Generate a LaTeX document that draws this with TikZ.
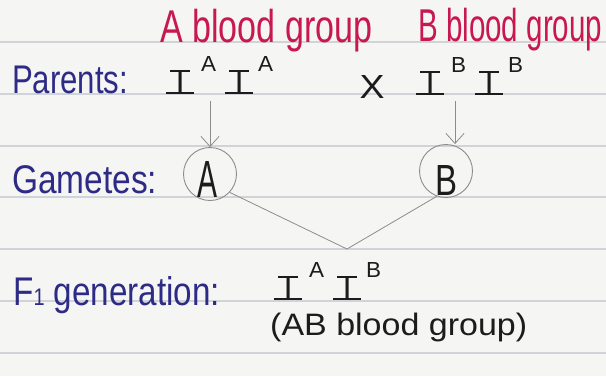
\documentclass[tikz,border=0pt]{standalone}
\usepackage{fontspec}
\usepackage{graphicx}
\usetikzlibrary{arrows.meta}
\setmainfont{Liberation Sans}

\definecolor{paper}{HTML}{F5F5F3}
\definecolor{rule}{HTML}{D0D3D8}
\definecolor{ink}{HTML}{2D2B86}
\definecolor{redink}{HTML}{C8194F}
\definecolor{pencil}{HTML}{8C8C8C}
\definecolor{blackink}{HTML}{1C1C1C}

% text set at a given size and squeezed to a given width
\newcommand\handtxt[3]{\resizebox{#2}{\height}{\fontsize{#1}{#1}\selectfont #3}}
% allele symbols: the letter I with a short top bar and a long foot, and a raised letter
\newcommand\gI{\makebox[28pt]{\fontsize{33}{33}\selectfont I}\hspace{-28pt}%
  \rule{28pt}{1.8pt}\hspace{-24pt}\raisebox{21.8pt}{\rule{20pt}{1.8pt}}\hspace{4pt}}
\newcommand\gsup[1]{\raisebox{23pt}{\resizebox{15pt}{15pt}{\fontsize{20}{20}\selectfont #1}}}
\newcommand\geno[2]{\gI\hspace{7pt}\gsup{#1}\hspace{9pt}\gI\hspace{5pt}\gsup{#2}}

\tikzset{
  lab/.style={inner sep=0pt, anchor=base west, text=ink},
  redlab/.style={inner sep=0pt, anchor=base west, text=redink},
  allele/.style={inner sep=0pt, anchor=base west, text=blackink},
  gamete/.style={circle, draw=pencil, line width=0.9pt, minimum size=53pt, inner sep=0pt},
  gletter/.style={inner sep=0pt, text=blackink},
  conn/.style={draw=pencil, line width=0.8pt},
  arr/.style={conn, -{Straight Barb[length=10pt, width=18pt, line width=0.8pt]}},
}

\begin{document}
\begin{tikzpicture}[x=1pt, y=-1pt]
  % notebook paper
  \fill[paper] (0,0) rectangle (606,376);
  \useasboundingbox (0,0) rectangle (606,376);
  \foreach \yy in {42,94,146,197,249,301,353}
    \draw[rule, line width=1.1pt] (0,\yy) -- (606,\yy);

  % row labels
  \node[lab] (parents) at (12,93) {\handtxt{40}{116pt}{Parents:}};
  \node[lab] (gametes) at (12,193) {\handtxt{40}{145pt}{Gametes:}};
  \node[lab] (fone) at (13,305) {\handtxt{40}{207pt}{F{\fontsize{24}{24}\selectfont 1} generation:}};

  % phenotypes of the parents
  \node[redlab] (phA) at (160,42) {\handtxt{46}{212pt}{A blood group}};
  \node[redlab] (phB) at (418,41) {\handtxt{46}{184pt}{B blood group}};

  % parental genotypes
  \node[allele] (pA) at (166,94) {\geno{A}{A}};
  \node[text=blackink, inner sep=0pt] (cross) at (372,87) {\resizebox{25pt}{23pt}{X}};
  \node[allele] (pB) at (416,95) {\geno{B}{B}};

  % gametes
  \node[gamete] (gA) at (210,174) {};
  \node[gletter] (gAl) at (207,179) {\resizebox{20pt}{36pt}{A}};
  \node[gamete] (gB) at (446,171) {};
  \node[gletter] (gBl) at (446,180) {\resizebox{22pt}{30pt}{B}};

  % offspring
  \node[allele] (f1) at (274,300) {\geno{A}{B}};
  \node[inner sep=0pt, anchor=base west, text=blackink] (f1ph) at (270,335)
    {\handtxt{31}{257pt}{(AB blood group)}};

  % connectors
  \coordinate (aTop) at (210,101);
  \coordinate (bTop) at (455,101);
  \coordinate (vx) at (347,249);
  \draw[arr] (aTop) -- (gA.north);
  \draw[arr] (bTop) -- (gB.north -| bTop);
  \draw[conn] (gA.-43) -- (vx) -- (gB.-110);
\end{tikzpicture}
\end{document}
